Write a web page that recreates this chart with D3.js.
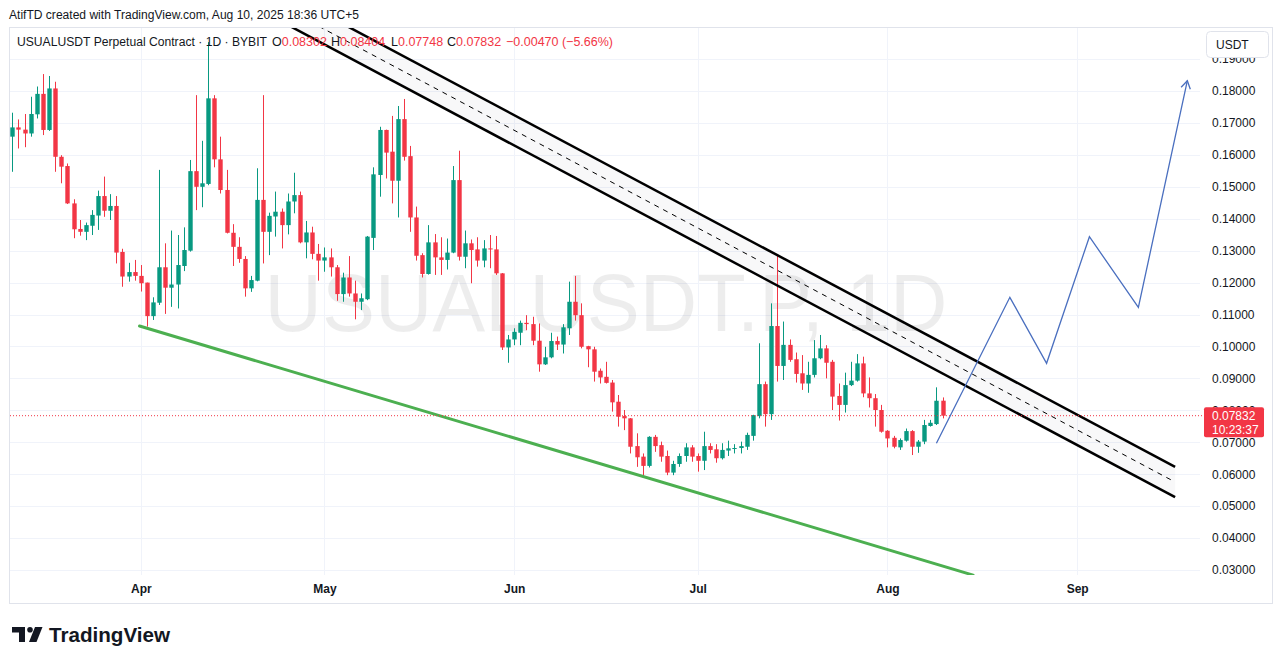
<!DOCTYPE html>
<html><head><meta charset="utf-8">
<script src="https://cdn.jsdelivr.net/npm/d3@7"></script>
<style>
html,body{margin:0;padding:0;background:#fff;}
svg{display:block;}
text{font-family:"Liberation Sans", Arial, sans-serif;}
</style></head><body>
<svg id="chart" width="1283" height="664"></svg>
<script>
// ---------- DATA ----------
const firstDay = "2025-03-11";   // first daily candle
const opens = [0.1657,0.1686,0.1679,0.1667,0.1727,0.1791,0.1678,0.1808,0.1594,0.1565,
0.1448,0.1368,0.1359,0.1378,0.1410,0.1471,0.1425,0.1440,0.1296,0.1219,
0.1233,0.1221,0.1200,0.1095,0.1137,0.1248,0.1184,0.1194,0.1252,0.1300,
0.1549,0.1500,0.1509,0.1777,0.1586,0.1490,0.1356,0.1312,0.1274,0.1182,
0.1206,0.1459,0.1359,0.1407,0.1422,0.1380,0.1454,0.1474,0.1326,0.1357,
0.1290,0.1269,0.1279,0.1248,0.1164,0.1216,0.1166,0.1140,0.1148,0.1340,
0.1537,0.1678,0.1610,0.1519,0.1712,0.1596,0.1404,0.1286,0.1227,0.1326,
0.1279,0.1271,0.1294,0.1521,0.1281,0.1323,0.1304,0.1269,0.1307,0.1304,
0.1229,0.0997,0.1022,0.1043,0.1074,0.1070,0.1018,0.0944,0.0966,0.1017,
0.1006,0.1057,0.1140,0.1098,0.1001,0.0991,0.0924,0.0905,0.0887,0.0827,
0.0782,0.0775,0.0688,0.0655,0.0626,0.0717,0.0691,0.0657,0.0605,0.0632,
0.0657,0.0684,0.0657,0.0642,0.0688,0.0678,0.0650,0.0674,0.0681,0.0682,
0.0686,0.0720,0.0782,0.0882,0.0788,0.1064,0.0939,0.1005,0.0960,0.0916,
0.0884,0.0911,0.0963,0.0994,0.0952,0.0845,0.0817,0.0879,0.0893,0.0947,
0.0853,0.0838,0.0801,0.0736,0.0714,0.0684,0.0705,0.0735,0.0686,0.0702,
0.0751,0.0757,0.08302];
const highs = [0.1732,0.1711,0.1728,0.1782,0.1814,0.1853,0.1847,0.1829,0.1599,0.1573,
0.1461,0.1396,0.1388,0.1427,0.1488,0.1532,0.1477,0.1471,0.1306,0.1262,
0.1271,0.1255,0.1200,0.1154,0.1553,0.1323,0.1363,0.1349,0.1373,0.1584,
0.1787,0.1644,0.1953,0.1787,0.1657,0.1553,0.1383,0.1342,0.1283,0.1221,
0.1558,0.1787,0.1419,0.1485,0.1432,0.1479,0.1544,0.1485,0.1393,0.1375,
0.1321,0.1310,0.1307,0.1255,0.1231,0.1283,0.1206,0.1166,0.1346,0.1561,
0.1688,0.1679,0.1722,0.1753,0.1775,0.1628,0.1438,0.1292,0.1380,0.1352,
0.1342,0.1338,0.1565,0.1613,0.1363,0.1335,0.1342,0.1333,0.1349,0.1346,
0.1230,0.1036,0.1057,0.1081,0.1098,0.1093,0.1072,0.0999,0.1043,0.1031,
0.1070,0.1203,0.1221,0.1135,0.1002,0.0999,0.0931,0.0952,0.0895,0.0848,
0.0801,0.0776,0.0728,0.0665,0.0719,0.0723,0.0702,0.0674,0.0642,0.0665,
0.0697,0.0691,0.0665,0.0733,0.0697,0.0694,0.0697,0.0705,0.0694,0.0702,
0.0730,0.0786,0.1010,0.0890,0.1135,0.1286,0.1078,0.1022,0.0981,0.0973,
0.0952,0.1020,0.1036,0.1004,0.0958,0.0884,0.0918,0.0952,0.0976,0.0968,
0.0903,0.0851,0.0817,0.0738,0.0720,0.0712,0.0743,0.0738,0.0707,0.0770,
0.0770,0.0872,0.08404];
const lows = [0.1547,0.1620,0.1624,0.1657,0.1714,0.1662,0.1675,0.1547,0.1511,0.1446,
0.1339,0.1347,0.1333,0.1349,0.1365,0.1406,0.1396,0.1260,0.1187,0.1203,
0.1206,0.1172,0.1062,0.1083,0.1130,0.1102,0.1124,0.1119,0.1236,0.1297,
0.1427,0.1436,0.1505,0.1561,0.1479,0.1354,0.1252,0.1262,0.1156,0.1171,
0.1204,0.1260,0.1286,0.1344,0.1307,0.1351,0.1417,0.1323,0.1276,0.1273,
0.1206,0.1234,0.1219,0.1143,0.1140,0.1156,0.1085,0.1114,0.1145,0.1302,
0.1469,0.1526,0.1448,0.1404,0.1582,0.1359,0.1269,0.1216,0.1225,0.1224,
0.1224,0.1241,0.1292,0.1269,0.1245,0.1198,0.1250,0.1248,0.1245,0.1224,
0.0989,0.0949,0.1004,0.1004,0.1051,0.1004,0.0921,0.0942,0.0963,0.0989,
0.0978,0.1036,0.1081,0.0994,0.0935,0.0890,0.0884,0.0884,0.0796,0.0749,
0.0738,0.0665,0.0623,0.0595,0.0621,0.0670,0.0639,0.0597,0.0597,0.0623,
0.0639,0.0639,0.0608,0.0613,0.0665,0.0636,0.0646,0.0657,0.0665,0.0665,
0.0676,0.0705,0.0775,0.0749,0.0770,0.0890,0.0895,0.0952,0.0887,0.0864,
0.0855,0.0903,0.0960,0.0900,0.0801,0.0768,0.0793,0.0876,0.0890,0.0841,
0.0809,0.0749,0.0730,0.0684,0.0681,0.0676,0.0702,0.0660,0.0667,0.0694,
0.0749,0.0754,0.07748];
const closes = [0.1686,0.1679,0.1667,0.1728,0.1791,0.1678,0.1808,0.1594,0.1563,0.1448,
0.1367,0.1359,0.1380,0.1412,0.1471,0.1425,0.1440,0.1294,0.1219,0.1233,
0.1221,0.1198,0.1095,0.1138,0.1248,0.1184,0.1194,0.1255,0.1302,0.1549,
0.1500,0.1511,0.1777,0.1586,0.1490,0.1356,0.1312,0.1274,0.1182,0.1208,
0.1459,0.1359,0.1409,0.1422,0.1380,0.1454,0.1474,0.1326,0.1357,0.1290,
0.1269,0.1279,0.1248,0.1164,0.1216,0.1166,0.1140,0.1151,0.1344,0.1539,
0.1678,0.1607,0.1519,0.1712,0.1594,0.1404,0.1284,0.1227,0.1326,0.1279,
0.1271,0.1294,0.1521,0.1281,0.1323,0.1302,0.1269,0.1307,0.1304,0.1229,
0.0997,0.1022,0.1046,0.1074,0.1070,0.1018,0.0944,0.0966,0.1017,0.1006,
0.1060,0.1140,0.1098,0.0999,0.0991,0.0921,0.0903,0.0886,0.0825,0.0780,
0.0775,0.0686,0.0653,0.0626,0.0717,0.0688,0.0655,0.0605,0.0632,0.0657,
0.0684,0.0655,0.0642,0.0688,0.0676,0.0650,0.0676,0.0681,0.0682,0.0688,
0.0723,0.0785,0.0882,0.0788,0.1064,0.0939,0.1005,0.0958,0.0914,0.0884,
0.0911,0.0963,0.0994,0.0949,0.0843,0.0817,0.0879,0.0893,0.0947,0.0853,
0.0838,0.0801,0.0733,0.0712,0.0686,0.0707,0.0735,0.0686,0.0702,0.0754,
0.0761,0.0830,0.07832];

const priceTicks = [0.19,0.18,0.17,0.16,0.15,0.14,0.13,0.12,0.11,0.10,0.09,0.08,0.07,0.06,0.05,0.04,0.03];
const monthTickDates = ["2025-04-01","2025-05-01","2025-06-01","2025-07-01","2025-08-01","2025-09-01"];
const monthTickLabels = ["Apr","May","Jun","Jul","Aug","Sep"];

const lastPrice = 0.07832;
const countdown = "10:23:37";
const titleText = "AtifTD created with TradingView.com, Aug 10, 2025 18:36 UTC+5";
const symbolText = "USUALUSDT Perpetual Contract · 1D · BYBIT";
const ohlcLabels = ["O","H","L","C"];
const ohlcValues = ["0.08302","0.08404","0.07748","0.07832"];
const changeText = "−0.00470 (−5.66%)";
const watermark = "USUALUSDT.P, 1D";

// drawings (date, price)
const supportLine = [["2025-03-31T19:00",0.1064],["2025-08-15",0.0284]];
const channelUpper = [["2025-04-20",0.2153],["2025-09-17",0.0623]];
const channelMid   = [["2025-04-20",0.21055],["2025-09-17",0.05755]];
const channelLower = [["2025-04-20",0.2058],["2025-09-17",0.0528]];
const projectionPath = [["2025-08-09",0.06967],["2025-08-21",0.11539],["2025-08-27",0.09472],
  ["2025-09-03",0.13437],["2025-09-11",0.11226],["2025-09-19",0.18323]];

// ---------- SETUP ----------
const svg = d3.select("#chart");
const W = 1283, H = 664;
const pane = {left:10, top:28, right:1200, bottom:575};
const parse = s => new Date(s.length > 10 ? s + "Z" : s + "T00:00:00Z");
const day0 = parse(firstDay);
const dates = closes.map((_, i) => d3.utcDay.offset(day0, i));

const x = d3.scaleUtc().domain([parse("2025-03-11"), parse("2025-09-20")]).range([12.3, 12.3 + 193 * 6.12]);
const y = d3.scaleLinear().domain([0.03, 0.18]).range([570, 91]);

const UP = "#089981", DOWN = "#f23645", TXT = "#131722", GRID = "#f0f3fa";

svg.append("rect").attr("width", W).attr("height", H).attr("fill", "#fff");

// title
svg.append("text").attr("x", 9).attr("y", 19).attr("font-size", 12.5).attr("fill", TXT)
  .attr("textLength", 350).attr("lengthAdjust", "spacingAndGlyphs").text(titleText);

// outer border
svg.append("rect").attr("x", 9.5).attr("y", 27.5).attr("width", 1263).attr("height", 576)
  .attr("fill", "none").attr("stroke", "#e0e3eb");

const defs = svg.append("defs");
defs.append("clipPath").attr("id", "paneClip").append("rect")
  .attr("x", pane.left).attr("y", pane.top).attr("width", pane.right - pane.left).attr("height", pane.bottom - pane.top);

// grid
const grid = svg.append("g");
grid.selectAll("line.h").data(priceTicks).join("line")
  .attr("x1", pane.left).attr("x2", pane.right)
  .attr("y1", d => Math.round(y(d)) + 0.5).attr("y2", d => Math.round(y(d)) + 0.5)
  .attr("stroke", GRID);
grid.selectAll("line.v").data(monthTickDates).join("line")
  .attr("y1", pane.top).attr("y2", pane.bottom)
  .attr("x1", d => Math.round(x(parse(d))) + 0.5).attr("x2", d => Math.round(x(parse(d))) + 0.5)
  .attr("stroke", GRID);

const plot = svg.append("g").attr("clip-path", "url(#paneClip)");

// watermark
plot.append("text").attr("x", 606).attr("y", 331).attr("text-anchor", "middle")
  .attr("font-size", 82).attr("fill", "#000").attr("fill-opacity", 0.07)
  .attr("textLength", 683).attr("lengthAdjust", "spacingAndGlyphs").text(watermark);

const pt = d => [x(parse(d[0])), y(d[1])];

// channel fill
const poly = [pt(channelUpper[0]), pt(channelUpper[1]), pt(channelLower[1]), pt(channelLower[0])];
plot.append("path").attr("d", "M" + poly.map(p => p.join(",")).join("L") + "Z")
  .attr("fill", "#787b86").attr("fill-opacity", 0.05);

// candles
const bw = 4.4;
const candles = plot.append("g");
closes.forEach((c, i) => {
  const o = opens[i], h = highs[i], l = lows[i];
  const col = c >= o ? UP : DOWN;
  const cx = Math.round(x(dates[i])) + 0.5;
  candles.append("line").attr("x1", cx).attr("x2", cx).attr("y1", y(h)).attr("y2", y(l))
    .attr("stroke", col).attr("stroke-width", 1);
  const top = y(Math.max(o, c)), bot = y(Math.min(o, c));
  candles.append("rect").attr("x", cx - bw / 2).attr("y", top).attr("width", bw)
    .attr("height", Math.max(1, bot - top)).attr("fill", col);
});

// support line
const line = d3.line().x(d => x(parse(d[0]))).y(d => y(d[1]));
plot.append("path").attr("d", line(supportLine)).attr("stroke", "#4caf50").attr("stroke-width", 3)
  .attr("fill", "none").attr("stroke-linecap", "round");

// channel lines
plot.append("path").attr("d", line(channelUpper)).attr("stroke", "#000").attr("stroke-width", 2.5).attr("fill", "none");
plot.append("path").attr("d", line(channelLower)).attr("stroke", "#000").attr("stroke-width", 2.5).attr("fill", "none");
plot.append("path").attr("d", line(channelMid)).attr("stroke", "#000").attr("stroke-width", 1).attr("fill", "none")
  .attr("stroke-dasharray", "5,5");

// projection path
const BLUE = "#4a6fbf";
plot.append("path").attr("d", line(projectionPath)).attr("stroke", BLUE).attr("stroke-width", 1.3).attr("fill", "none");
{
  const a = pt(projectionPath[projectionPath.length - 2]), b = pt(projectionPath[projectionPath.length - 1]);
  const ang = Math.atan2(b[1] - a[1], b[0] - a[0]);
  const len = 9, spread = 0.55;
  const p1 = [b[0] - len * Math.cos(ang - spread), b[1] - len * Math.sin(ang - spread)];
  const p2 = [b[0] - len * Math.cos(ang + spread), b[1] - len * Math.sin(ang + spread)];
  plot.append("path").attr("d", `M${p1}L${b}L${p2}`).attr("stroke", BLUE).attr("stroke-width", 1.3).attr("fill", "none");
}

// last price dotted line
svg.append("line").attr("x1", pane.left).attr("x2", 1204).attr("y1", y(lastPrice)).attr("y2", y(lastPrice))
  .attr("stroke", DOWN).attr("stroke-width", 1).attr("stroke-dasharray", "1,2");

// price axis
const yAxis = d3.axisRight(y).tickValues(priceTicks).tickFormat(d3.format(".5f")).tickSize(0).tickPadding(12);
const gy = svg.append("g").attr("transform", `translate(${pane.right},0)`).call(yAxis);
gy.select(".domain").remove();
gy.selectAll("text").attr("font-size", 12).attr("fill", TXT).attr("font-family", "Liberation Sans, Arial, sans-serif");

// time axis
const xAxis = d3.axisBottom(x).tickValues(monthTickDates.map(parse))
  .tickFormat((d, i) => monthTickLabels[i]).tickSize(0).tickPadding(9);
const gx = svg.append("g").attr("transform", `translate(0,${pane.bottom})`).call(xAxis);
gx.select(".domain").remove();
gx.selectAll("text").attr("font-size", 12).attr("font-weight", "bold").attr("fill", TXT)
  .attr("font-family", "Liberation Sans, Arial, sans-serif");

// USDT box
svg.append("rect").attr("x", 1206.5).attr("y", 31.5).attr("width", 62).attr("height", 26).attr("rx", 4)
  .attr("fill", "#fff").attr("stroke", "#e0e3eb");
svg.append("text").attr("x", 1216).attr("y", 49).attr("font-size", 12).attr("fill", TXT).text("USDT");

// last price label
const ly = y(lastPrice);
svg.append("rect").attr("x", 1204).attr("y", ly - 8.5).attr("width", 60).attr("height", 30).attr("rx", 2).attr("fill", DOWN);
svg.append("text").attr("x", 1212).attr("y", ly + 4.5).attr("font-size", 12).attr("fill", "#fff").text(lastPrice.toFixed(5));
svg.append("text").attr("x", 1212).attr("y", ly + 18).attr("font-size", 12).attr("fill", "#fff").text(countdown);

// legend
svg.append("text").attr("x", 17).attr("y", 46).attr("font-size", 12.5).attr("fill", TXT)
  .attr("textLength", 250).attr("lengthAdjust", "spacingAndGlyphs").text(symbolText);
const lx = [272, 331, 391, 447];
ohlcLabels.forEach((lab, i) => {
  const t = svg.append("text").attr("x", lx[i]).attr("y", 46).attr("font-size", 12.5);
  t.append("tspan").attr("fill", TXT).text(lab);
  t.append("tspan").attr("fill", DOWN).text(ohlcValues[i]);
});
svg.append("text").attr("x", 506).attr("y", 46).attr("font-size", 12.5).attr("fill", DOWN).text(changeText);

// TradingView logo
const logo = svg.append("g").attr("fill", "#131722");
logo.append("path").attr("d", "M12,627 H25 V642 H19 V632.5 H12 Z");
logo.append("circle").attr("cx", 30).attr("cy", 629.8).attr("r", 2.8);
logo.append("path").attr("d", "M35,627 H42.5 L36.5,642 H29 Z");
svg.append("text").attr("x", 49).attr("y", 642).attr("font-size", 20).attr("font-weight", 700)
  .attr("font-family", "Inter, 'Noto Sans', sans-serif").attr("fill", "#131722")
  .attr("textLength", 121).attr("lengthAdjust", "spacingAndGlyphs").text("TradingView");
</script>
</body></html>
